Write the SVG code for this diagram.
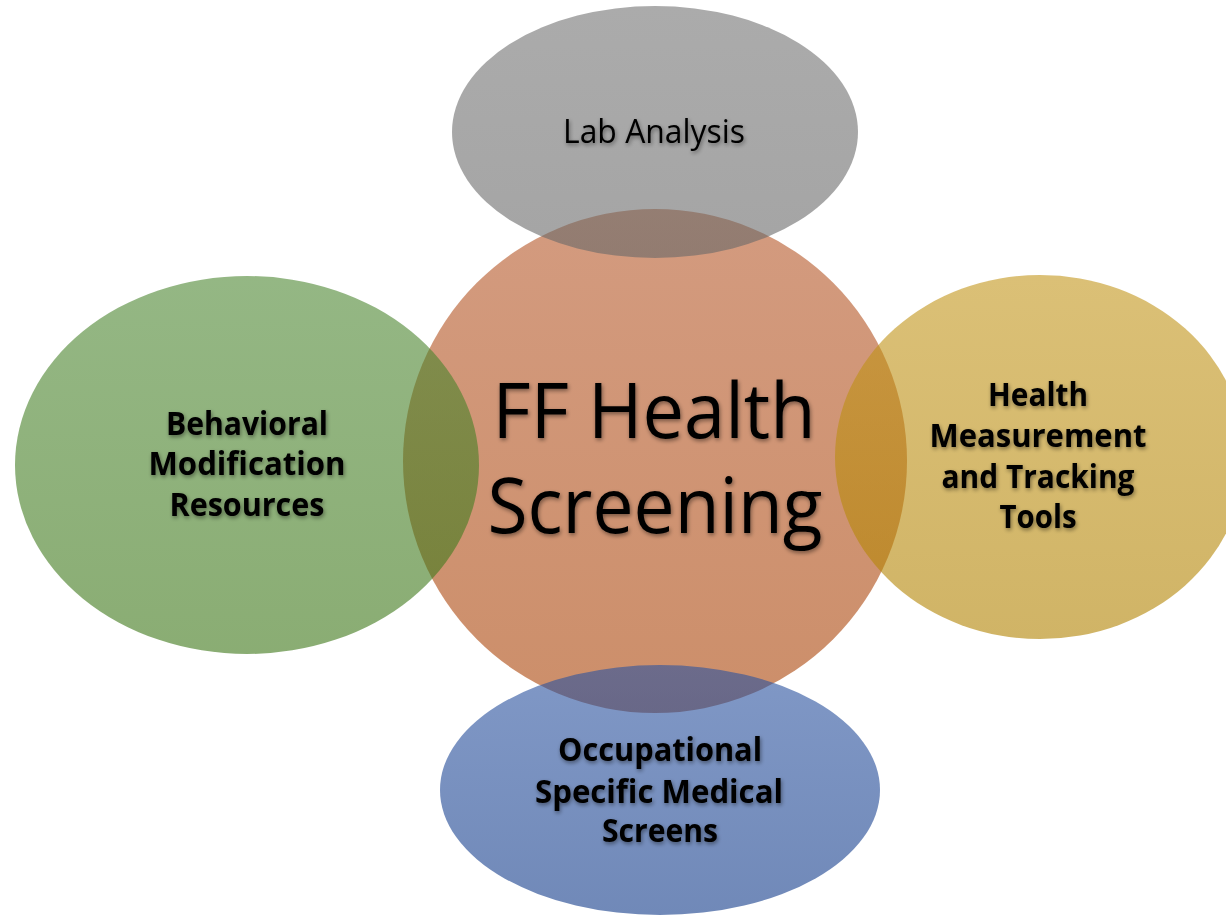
<svg xmlns="http://www.w3.org/2000/svg" width="1226" height="918" viewBox="0 0 1226 918">
<defs>
<linearGradient id="gOrange" x1="0" y1="0" x2="0" y2="1"><stop offset="0" stop-color="#b6582a"/><stop offset="1" stop-color="#aa4306"/></linearGradient>
<linearGradient id="gGray" x1="0" y1="0" x2="0" y2="1"><stop offset="0" stop-color="#737373"/><stop offset="1" stop-color="#686868"/></linearGradient>
<linearGradient id="gGreen" x1="0" y1="0" x2="0" y2="1"><stop offset="0" stop-color="#4d8732"/><stop offset="1" stop-color="#3c7616"/></linearGradient>
<linearGradient id="gYellow" x1="0" y1="0" x2="0" y2="1"><stop offset="0" stop-color="#c3961b"/><stop offset="1" stop-color="#b18200"/></linearGradient>
<linearGradient id="gBlue" x1="0" y1="0" x2="0" y2="1"><stop offset="0" stop-color="#2b53a0"/><stop offset="1" stop-color="#113a89"/></linearGradient>
<filter id="tshadow" x="-10%" y="-30%" width="120%" height="160%">
<feGaussianBlur in="SourceAlpha" stdDeviation="2"/>
<feOffset dx="1" dy="2" result="b"/>
<feComponentTransfer><feFuncA type="linear" slope="0.45"/></feComponentTransfer>
<feMerge><feMergeNode/><feMergeNode in="SourceGraphic"/></feMerge>
</filter>
<style>
.shape{fill-opacity:0.6;}
.lbl{font-family:"Open Sans","Noto Sans","DejaVu Sans",sans-serif;fill:#000;text-anchor:middle;filter:url(#tshadow);}
.b{font-weight:bold;font-size:32px;}
</style>
</defs>
<rect width="1226" height="918" fill="#ffffff"/>
<g id="center">
<circle class="shape" cx="655" cy="461" r="252" fill="url(#gOrange)"/>
<text class="lbl" x="654" y="438" font-size="76" textLength="323" lengthAdjust="spacingAndGlyphs">FF Health</text>
<text class="lbl" x="655" y="533" font-size="76" textLength="335" lengthAdjust="spacingAndGlyphs">Screening</text>
</g>
<g id="lab-analysis">
<ellipse class="shape" cx="655" cy="132" rx="203" ry="126" fill="url(#gGray)"/>
<text class="lbl" x="654" y="143" font-size="33" textLength="182" lengthAdjust="spacingAndGlyphs">Lab Analysis</text>
</g>
<g id="behavioral">
<ellipse class="shape" cx="247" cy="465" rx="232" ry="189" fill="url(#gGreen)"/>
<text class="lbl b" x="247" y="435" textLength="162" lengthAdjust="spacingAndGlyphs">Behavioral</text>
<text class="lbl b" x="247" y="475" textLength="197" lengthAdjust="spacingAndGlyphs">Modification</text>
<text class="lbl b" x="247" y="516" textLength="155" lengthAdjust="spacingAndGlyphs">Resources</text>
</g>
<g id="health-measurement">
<ellipse class="shape" cx="1040" cy="457" rx="205" ry="182" fill="url(#gYellow)"/>
<text class="lbl b" x="1038" y="406" textLength="100" lengthAdjust="spacingAndGlyphs">Health</text>
<text class="lbl b" x="1038" y="447" textLength="217" lengthAdjust="spacingAndGlyphs">Measurement</text>
<text class="lbl b" x="1038" y="488" textLength="193" lengthAdjust="spacingAndGlyphs">and Tracking</text>
<text class="lbl b" x="1038" y="528" textLength="77" lengthAdjust="spacingAndGlyphs">Tools</text>
</g>
<g id="occupational">
<ellipse class="shape" cx="660" cy="790" rx="220" ry="125" fill="url(#gBlue)"/>
<text class="lbl b" x="660" y="761" textLength="204" lengthAdjust="spacingAndGlyphs">Occupational</text>
<text class="lbl b" x="659" y="803" textLength="248" lengthAdjust="spacingAndGlyphs">Specific Medical</text>
<text class="lbl b" x="660" y="842" textLength="116" lengthAdjust="spacingAndGlyphs">Screens</text>
</g>
<g id="connectors"/>
</svg>
